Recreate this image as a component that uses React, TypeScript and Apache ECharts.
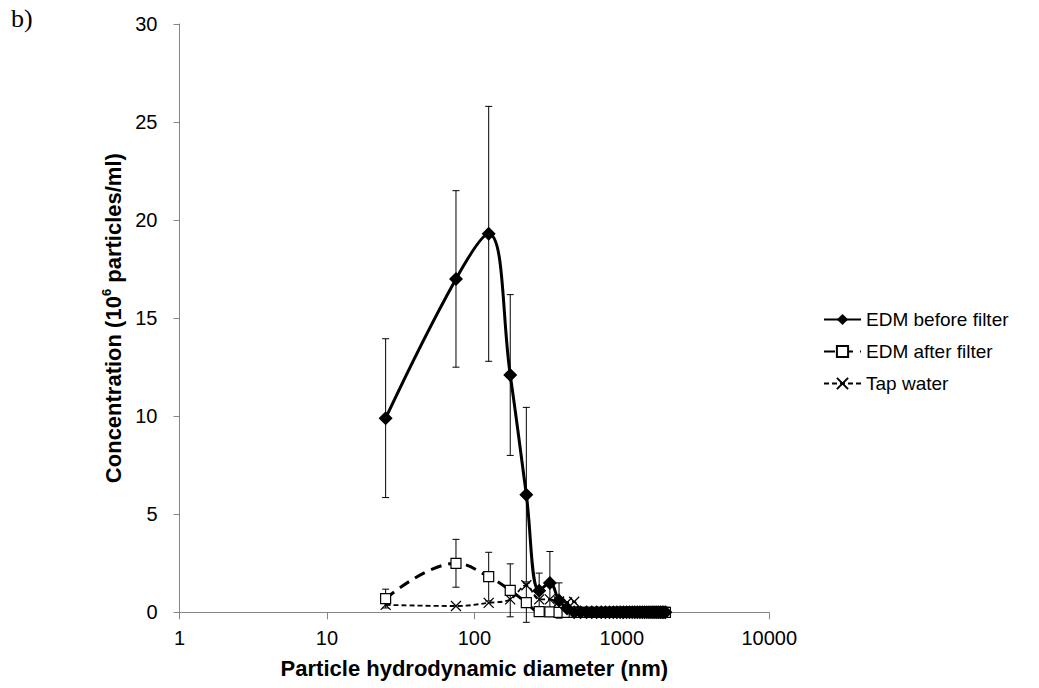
import React, { useEffect, useRef } from "react";
import * as echarts from "echarts";

const diameters = [25, 75, 125, 175, 225, 275, 325, 375, 425, 475, 525, 575, 625, 675, 725, 775, 825, 875, 925, 975, 1025, 1075, 1125, 1175, 1225, 1275, 1325, 1375, 1425, 1475, 1525, 1575, 1625, 1675, 1725, 1775, 1825, 1875, 1925, 1975];
const beforeFilter = [9.9, 17.0, 19.3, 12.1, 6.0, 1.1, 1.5, 0.6, 0.2, 0, 0, 0, 0, 0, 0, 0, 0, 0, 0, 0, 0, 0, 0, 0, 0, 0, 0, 0, 0, 0, 0, 0, 0, 0, 0, 0, 0, 0, 0, 0];
const beforeErr = [4.05, 4.5, 6.5, 4.1, 4.45, 0.9, 1.6, 0.9, 0, 0, 0, 0, 0, 0, 0, 0, 0, 0, 0, 0, 0, 0, 0, 0, 0, 0, 0, 0, 0, 0, 0, 0, 0, 0, 0, 0, 0, 0, 0, 0];
const afterFilter = [0.7, 2.5, 1.82, 1.12, 0.49, 0.03, 0.02, 0, 0, 0, 0, 0, 0, 0, 0, 0, 0, 0, 0, 0, 0, 0, 0, 0, 0, 0, 0, 0, 0, 0, 0, 0, 0, 0, 0, 0, 0, 0, 0, 0];
const afterErr = [0.48, 1.22, 1.24, 1.35, 1.0, 0, 0, 0, 0, 0, 0, 0, 0, 0, 0, 0, 0, 0, 0, 0, 0, 0, 0, 0, 0, 0, 0, 0, 0, 0, 0, 0, 0, 0, 0, 0, 0, 0, 0, 0];
const tapWater = [0.38, 0.32, 0.48, 0.66, 1.38, 0.66, 0.66, 0.55, 0.5, 0.54, 0, 0, 0, 0, 0, 0, 0, 0, 0, 0, 0, 0, 0, 0, 0, 0, 0, 0, 0, 0, 0, 0, 0, 0, 0, 0, 0, 0, 0, 0];
const seriesNames = ["EDM before filter", "EDM after filter", "Tap water"];
const xTicks = [1, 10, 100, 1000, 10000];

const FONT = "'Liberation Sans', Arial, sans-serif";

function pairs(vals: number[]) {
  return diameters.map((d, i) => [d, vals[i]]);
}
function errData(vals: number[], errs: number[]) {
  const out: number[][] = [];
  diameters.forEach((d, i) => {
    if (errs[i] > 0) out.push([d, vals[i] - errs[i], vals[i] + errs[i]]);
  });
  return out;
}

function errorSeries(data: number[][]) {
  return {
    type: "custom",
    silent: true,
    z: 1,
    data,
    encode: { x: 0, y: [1, 2] },
    renderItem: (params: any, api: any) => {
      const x = api.value(0);
      const lo = api.coord([x, api.value(1)]);
      const hi = api.coord([x, api.value(2)]);
      const cap = 3.5;
      const style = { stroke: "#000", lineWidth: 1 };
      return {
        type: "group",
        children: [
          { type: "line", shape: { x1: lo[0], y1: lo[1], x2: hi[0], y2: hi[1] }, style },
          { type: "line", shape: { x1: hi[0] - cap, y1: hi[1], x2: hi[0] + cap, y2: hi[1] }, style },
          { type: "line", shape: { x1: lo[0] - cap, y1: lo[1], x2: lo[0] + cap, y2: lo[1] }, style },
        ],
      };
    },
  };
}

export default function App() {
  const ref = useRef<HTMLDivElement>(null);
  useEffect(() => {
    if (!ref.current) return;
    const chart = echarts.init(ref.current, undefined, { renderer: "svg" });
    chart.setOption({
      animation: false,
      backgroundColor: "#fff",
      grid: { left: 179.5, right: 269.7, top: 24, bottom: 75.7, containLabel: false },
      legend: {
        orient: "vertical",
        left: 818,
        top: 305,
        itemWidth: 37,
        itemHeight: 14,
        itemGap: 13,
        data: seriesNames,
        textStyle: { fontFamily: FONT, fontSize: 19, color: "#000" },
      },
      graphic: [
        {
          type: "text",
          left: 11,
          top: 5,
          style: { text: "b)", font: "26px 'Liberation Serif', 'Times New Roman', serif", fill: "#000" },
        },
      ],
      xAxis: {
        type: "log",
        logBase: 10,
        min: 1,
        max: 10000,
        name: "Particle hydrodynamic diameter (nm)",
        nameLocation: "middle",
        nameGap: 45,
        nameTextStyle: { fontFamily: FONT, fontSize: 22, fontWeight: "bold", color: "#000" },
        axisLine: { onZero: false, lineStyle: { color: "#868686", width: 1 } },
        axisTick: { show: true, length: 7, lineStyle: { color: "#868686" } },
        axisLabel: {
          fontFamily: FONT,
          fontSize: 20,
          color: "#000",
          margin: 16,
          formatter: (v: number) => (xTicks.indexOf(Math.round(v)) >= 0 ? String(Math.round(v)) : ""),
        },
        splitLine: { show: false },
        minorTick: { show: false },
      },
      yAxis: {
        type: "value",
        min: 0,
        max: 30,
        interval: 5,
        name: "{a|Concentration (10}{s|6}{a| particles/ml)}",
        nameLocation: "middle",
        nameGap: 50,
        nameTextStyle: {
          fontFamily: FONT,
          fontSize: 22,
          fontWeight: "bold",
          color: "#000",
          rich: {
            a: { fontFamily: FONT, fontSize: 22, fontWeight: "bold", color: "#000", lineHeight: 26 },
            s: { fontFamily: FONT, fontSize: 13, fontWeight: "bold", color: "#000", lineHeight: 15, verticalAlign: "top" },
          },
        },
        axisLine: { show: true, lineStyle: { color: "#868686", width: 1 } },
        axisTick: { show: true, length: 6, lineStyle: { color: "#868686" } },
        axisLabel: { fontFamily: FONT, fontSize: 20, color: "#000", margin: 22 },
        splitLine: { show: false },
      },
      series: [
        errorSeries(errData(afterFilter, afterErr)),
        errorSeries(errData(beforeFilter, beforeErr)),
        {
          name: "Tap water",
          type: "line",
          z: 3,
          smooth: 0.4,
          data: pairs(tapWater),
          symbol: "path://M0,0L10,10M0,10L10,0",
          symbolSize: 10,
          showAllSymbol: true,
          lineStyle: { color: "#000", width: 1.8, type: [5, 3] },
          itemStyle: { color: "#000", borderColor: "#000", borderWidth: 1.3 },
        },
        {
          name: "EDM after filter",
          type: "line",
          z: 4,
          smooth: 0.4,
          data: pairs(afterFilter),
          symbol: "rect",
          symbolSize: 10,
          showAllSymbol: true,
          lineStyle: { color: "#000", width: 3, type: [11, 7] },
          itemStyle: { color: "#fff", borderColor: "#000", borderWidth: 1.2 },
        },
        {
          name: "EDM before filter",
          type: "line",
          z: 5,
          smooth: 0.4,
          data: pairs(beforeFilter),
          symbol: "diamond",
          symbolSize: 14,
          showAllSymbol: true,
          lineStyle: { color: "#000", width: 3 },
          itemStyle: { color: "#000", borderColor: "#000", borderWidth: 0 },
        },
      ],
    });
    return () => chart.dispose();
  }, []);
  return <div ref={ref} style={{ position: "fixed", left: 0, top: 0, width: 1039, height: 688 }} />;
}
